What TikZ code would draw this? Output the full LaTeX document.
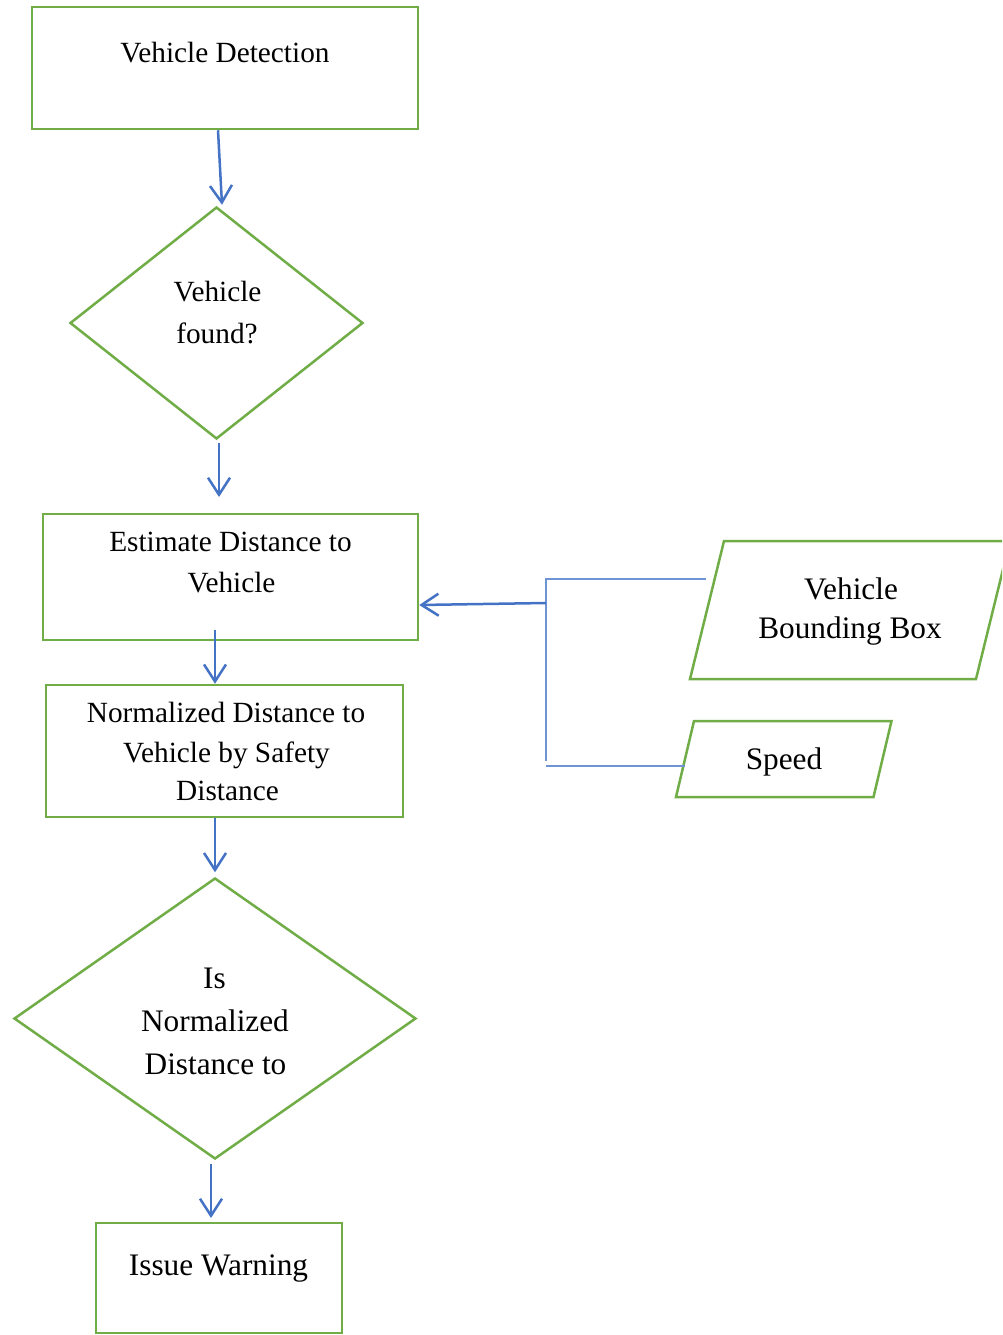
\documentclass[tikz,border=0pt]{standalone}
\usepackage{fontspec}
\setmainfont{Liberation Serif}
\usetikzlibrary{arrows.meta,shapes.geometric}
\definecolor{grn}{HTML}{70AD47}
\definecolor{blu}{HTML}{4472C4}
\definecolor{lblu}{HTML}{6E93D6}
\begin{document}
\begin{tikzpicture}[x=1pt,y=-1pt,
  shp/.style={draw=grn, line width=2.5pt, inner sep=0pt},
  boxs/.style={shp, rectangle},
  dia/.style={shp, diamond},
  hid/.style={rectangle, inner sep=0pt, outer sep=0pt},
  pl/.style={draw=grn, line width=2.5pt},
  arr/.style={draw=blu, line width=2.5pt, -{Straight Barb[length=17pt,width=22pt]}},
  conn/.style={draw=lblu, line width=1.3pt},
  ta/.style={anchor=base, inner sep=0pt, font=\fontsize{29.3}{35}\selectfont},
  tb/.style={anchor=base, inner sep=0pt, font=\fontsize{31.3}{37}\selectfont},
]
\clip (0,0) rectangle (1002,1335);

% shapes
\node[boxs, minimum width=386pt, minimum height=122pt] (b1) at (225,68) {};
\node[dia, minimum width=293pt, minimum height=232pt] (d1) at (216.5,323) {};
\node[boxs, minimum width=375pt, minimum height=126pt] (b2) at (230.5,577) {};
\node[boxs, minimum width=357pt, minimum height=132pt] (b3) at (224.5,751) {};
\node[dia, minimum width=402pt, minimum height=281pt] (d2) at (215,1018.5) {};
\node[boxs, minimum width=246pt, minimum height=110pt] (b4) at (219,1278) {};

\node[hid, minimum width=286pt, minimum height=138pt] (p1) at (850,610) {};
\draw[pl] ([xshift=17pt]p1.north west) -- ([xshift=17pt]p1.north east) -- ([xshift=-17pt]p1.south east) -- ([xshift=-17pt]p1.south west) -- cycle;
\node[hid, minimum width=197.5pt, minimum height=76pt] (p2) at (783.75,759) {};
\draw[pl] ([xshift=9pt]p2.north west) -- ([xshift=9pt]p2.north east) -- ([xshift=-9pt]p2.south east) -- ([xshift=-9pt]p2.south west) -- cycle;

% texts
\node[ta] (t1) at (225,63) {Vehicle Detection};
\node[ta] (t2a) at (217.5,301) {Vehicle};
\node[ta] (t2b) at (217,343) {found?};
\node[ta] (t3a) at (230.5,551) {Estimate Distance to};
\node[ta] (t3b) at (231.5,592) {Vehicle};
\node[ta] (t4a) at (226,722) {Normalized Distance to};
\node[ta] (t4b) at (226.5,762) {Vehicle by Safety};
\node[ta] (t4c) at (227.5,800) {Distance};
\node[tb] (t5a) at (214.5,988) {Is};
\node[tb] (t5b) at (215,1031) {Normalized};
\node[tb] (t5c) at (215.5,1074) {Distance to};
\node[tb] (t6) at (218.5,1275) {Issue Warning};
\node[tb] (t7a) at (851,599) {Vehicle};
\node[tb] (t7b) at (850,638) {Bounding Box};
\node[tb] (t8) at (784,769) {Speed};

% flow arrows
\draw[arr] ([xshift=-7pt]b1.south) -- ([xshift=5.5pt,yshift=1pt]d1.north);
\draw[arr] ([xshift=2.5pt,yshift=-2.5pt]d1.south) -- ([xshift=-11.5pt,yshift=15.75pt]b2.north);
\draw[arr] ([xshift=-15.5pt,yshift=11pt]b2.south) -- ([xshift=-9.5pt]b3.north);
\draw[arr] ([xshift=-9.5pt]b3.south) -- ([yshift=4.5pt]d2.north);
\draw[arr] ([xshift=-4pt,yshift=-3.5pt]d2.south) -- ([xshift=-8pt,yshift=3.75pt]b4.north);

% input connectors
\coordinate (jt) at (546,579);
\coordinate (jb) at (546,761);
\coordinate (jb2) at (546,766);
\coordinate (j) at (546,603);
\draw[conn] ([xshift=-1pt,yshift=31pt]p1.west) -- (jt) -- (jb);
\draw[conn] (jb2) -- ([yshift=-7pt]p2.west);
\draw[arr] (j) -- ([yshift=-28pt]b2.east);
\end{tikzpicture}
\end{document}
